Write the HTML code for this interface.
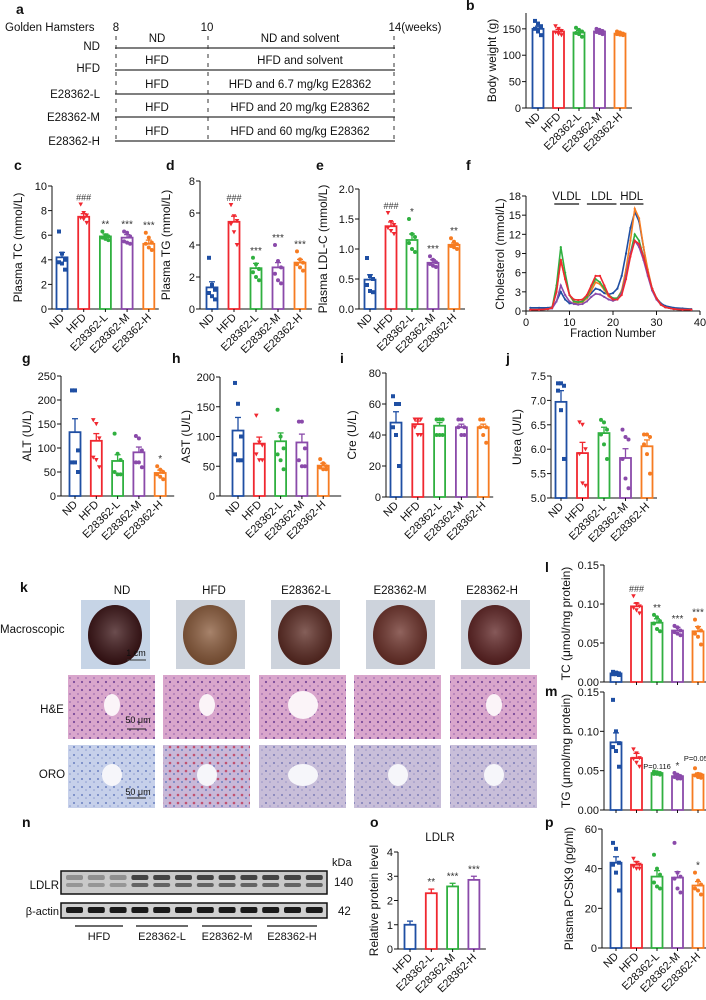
<!DOCTYPE html>
<html><head><meta charset="utf-8"><style>
body{margin:0;background:#fff;}
#wrap{position:relative;width:706px;height:1000px;overflow:hidden;font-family:"Liberation Sans",sans-serif;}
svg{position:absolute;left:0;top:0;}
</style></head><body>
<div id="wrap">
<svg id="s" width="706" height="1000" viewBox="0 0 706 1000">
<defs>
<radialGradient id="liv" cx="50%" cy="45%" r="55%"><stop offset="0" stop-color="#fff" stop-opacity=".25"/><stop offset="1" stop-color="#000" stop-opacity=".2"/></radialGradient>
<pattern id="he" width="8" height="8" patternUnits="userSpaceOnUse"><rect width="8" height="8" fill="#d9a6cc"/><circle cx="2" cy="2" r="1.1" fill="#7a4a9a"/><circle cx="6" cy="6" r="0.9" fill="#a070b0"/></pattern>
<pattern id="oro" width="8" height="8" patternUnits="userSpaceOnUse"><rect width="8" height="8" fill="#c6d0ea"/><circle cx="2" cy="3" r="1" fill="#6a80c0"/><circle cx="6" cy="6" r="0.8" fill="#8a9ad0"/></pattern>
<pattern id="oror" width="8" height="8" patternUnits="userSpaceOnUse"><rect width="8" height="8" fill="#c8b8d8"/><circle cx="2" cy="3" r="1.3" fill="#c05070"/><circle cx="6" cy="6" r="1" fill="#7080c0"/></pattern>
</defs>
</svg>
</div>
<script>
const S=document.getElementById('s');const NS='http://www.w3.org/2000/svg';
function mk(t,a,txt){const e=document.createElementNS(NS,t);for(const k in a)e.setAttribute(k,a[k]);if(txt!==undefined)e.textContent=txt;S.appendChild(e);return e;}
const COL=['#1f4fa3','#f02830','#30b040','#8a4aaa','#f67c22'];
const GROUPS=['ND','HFD','E28362-L','E28362-M','E28362-H'];
function T(x,y,s,fs,anchor,name,extra){const e=mk('text',Object.assign({x:x,y:y,'font-size':fs||11,'text-anchor':anchor||'start',fill:'#111'},extra||{}),s);return e;}

// ---------- data ----------
const bMean=[150,145,143,145,141],bSem=[5,4,4,3,2];
const bDots=[[165,160,155,150,145,138],[155,150,146,143,140,138],[152,148,145,142,140,135],[150,148,146,144,142,140],[145,143,141,140,139,138]];
const cMean=[4.2,7.5,5.9,5.8,5.3],cSem=[0.4,0.25,0.2,0.25,0.3];
const cDots=[[6.3,4.5,4,3.8,3.7,3.2],[8.5,7.8,7.6,7.4,7.3,7.0],[6.3,6.0,5.9,5.8,5.7,5.6],[6.3,6.2,5.9,5.5,5.4,5.3],[6.2,5.8,5.4,5.3,5.0,4.8]];
const dMean=[1.35,5.45,2.55,2.6,2.9],dSem=[0.35,0.35,0.3,0.3,0.2];
const dDots=[[3.2,1.5,1.2,1.0,0.8,0.6],[6.5,5.8,5.5,5.3,4.8,4.0],[3.2,2.8,2.5,2.3,2.0,1.8],[4.0,3.0,2.6,2.2,1.8,1.6],[3.6,3.1,2.9,2.8,2.6,2.4]];
const eMean=[0.49,1.38,1.15,0.77,1.07],eSem=[0.08,0.07,0.1,0.05,0.03];
const eDots=[[0.85,0.55,0.5,0.4,0.3,0.28],[1.6,1.45,1.4,1.35,1.3,1.25],[1.5,1.25,1.2,1.1,1.0,0.95],[0.88,0.82,0.78,0.75,0.72,0.7],[1.18,1.12,1.08,1.05,1.03,1.0]];
const gMean=[133,115,73,91,48],gSem=[28,15,13,11,6];
const gDots=[[220,220,95,70,70,50],[158,150,120,80,75,60],[130,88,75,50,45,45],[125,120,95,70,70,60],[62,55,50,45,40,35]];
const hMean=[110,88,92,90,51],hSem=[22,11,14,14,4];
const hDots=[[190,155,100,70,60,60],[135,90,85,70,60,60],[145,100,80,70,60,45],[125,125,80,60,50,50],[62,55,50,48,45,45]];
const iMean=[48,47,46,45,45],iSem=[7,2,2,2,2];
const iDots=[[65,60,60,45,40,20],[50,50,50,45,40,40],[50,50,50,40,40,40],[50,50,45,45,40,40],[50,50,45,45,40,35]];
const jMean=[6.97,5.92,6.33,5.82,6.06],jSem=[0.23,0.22,0.12,0.19,0.13];
const jDots=[[7.35,7.35,7.3,7.2,6.8,5.8],[6.55,6.5,6.0,5.9,5.3,5.25],[6.6,6.55,6.4,6.3,6.1,5.8],[6.4,6.25,6.2,5.8,5.4,5.2],[6.3,6.3,6.25,6.1,5.9,5.5]];
const lMean=[0.011,0.097,0.076,0.066,0.065],lSem=[0.002,0.004,0.005,0.004,0.006];
const lDots=[[0.013,0.012,0.011,0.010,0.010,0.009],[0.11,0.10,0.097,0.095,0.092,0.088],[0.086,0.083,0.078,0.075,0.068,0.065],[0.072,0.07,0.066,0.064,0.062,0.06],[0.08,0.07,0.066,0.062,0.058,0.048]];
const mMean=[0.086,0.066,0.047,0.043,0.045],mSem=[0.012,0.006,0.001,0.002,0.002];
const mDots=[[0.14,0.10,0.085,0.08,0.075,0.055],[0.077,0.072,0.066,0.065,0.06,0.055],[0.049,0.048,0.047,0.046,0.046,0.045],[0.047,0.045,0.043,0.042,0.04,0.04],[0.053,0.046,0.045,0.044,0.042,0.041]];
const oMean=[1.0,2.3,2.58,2.85],oSem=[0.15,0.17,0.13,0.15];
const pMean=[43,42,36,35.5,31.5],pSem=[3,1.5,3,3,2];
const pDots=[[53,50,43,42,38,29],[45,43,42,41,40,40],[47,40,37,33,31,30],[53,38,36,35,30,28],[38,34,32,30,29,27]];
// f: cholesterol profile
const fFrac=[1,3,5,6,7,8,9,10,11,12,13,14,15,16,17,18,19,20,21,22,23,24,25,26,27,28,29,30,31,32,34,36,38];
const fND=[0.5,0.5,0.5,0.6,1.5,3.0,1.8,1.2,1.2,1.3,1.5,2.0,2.8,3.5,3.3,2.8,2.6,2.8,3.5,5.5,9,13,15.5,14,10,6,3.5,2,1.2,0.8,0.5,0.4,0.3];
const fHFD=[0.2,0.2,0.3,0.5,3,8,5,2.5,1.8,1.7,1.8,2.5,4,5.5,5.5,4,2.5,1.8,1.8,2.5,5,8.5,11,10.5,8.5,6,3.5,2,1,0.6,0.3,0.2,0.2];
const fL=[0.2,0.2,0.3,0.5,4,10,6,2.5,1.5,1.4,1.5,2.2,3.8,5,4.5,3.5,2.5,2,2,3,5.5,9,12,11,8.5,6,3.5,2,1,0.6,0.3,0.2,0.2];
const fM=[0.2,0.2,0.3,0.4,1.5,4,2.5,1.5,1.1,1.0,1.1,1.5,2.2,2.7,2.6,2.2,1.8,1.6,1.8,2.8,5.5,9,11,10,8,5.5,3.2,1.8,1,0.6,0.3,0.2,0.2];
const fH=[0.2,0.2,0.3,0.5,3,8,5,2.5,1.4,1.3,1.4,2,3.2,4.5,4.2,3.3,2.3,1.8,2,3.2,6.5,11,16,14.5,10,6.5,3.5,2,1,0.6,0.3,0.2,0.2];
const fTicksX=[0,10,20,30,40],fTicksY=[0,3,6,9,12,15,18];

function marker(shape,x,y,c){let e;
 if(shape==='sq')e=mk('rect',{x:x-2,y:y-2,width:4,height:4,fill:c});
 else if(shape==='tri')e=mk('path',{d:`M${x-2.3},${y-2} L${x+2.3},${y-2} L${x},${y+2.2}Z`,fill:c});
 else e=mk('circle',{cx:x,cy:y,r:2,fill:c});
 }
const SHAPES=['sq','tri','ci','ci','ci'];

function barChart(o){
 const sy=v=>o.y0-(v-o.ymin)/(o.ymax-o.ymin)*(o.y0-o.yt);
 const n=o.mean.length;const end=o.ax+o.off+(n-1)*o.step+o.off;
 let e=mk('line',{x1:o.ax,y1:o.yt,x2:o.ax,y2:o.y0,stroke:'#111','stroke-width':1});
 e=mk('line',{x1:o.ax,y1:o.y0,x2:end,y2:o.y0,stroke:'#111','stroke-width':1});
 o.ticks.forEach((t,k)=>{const y=sy(t);mk('line',{x1:o.ax-4,y1:y,x2:o.ax,y2:y,stroke:'#111'});T(o.ax-5,y+4,o.tickLabels[k],11,'end',o.id+'-tick-label');});
 const tx=o.ylx||o.ax-30, ty=(o.yt+o.y0)/2;
 T(tx,ty,o.ylabel,12,'middle',o.id+'-y-axis-title',{transform:`rotate(-90 ${tx} ${ty})`});
 for(let i=0;i<n;i++){const cx=o.ax+o.off+i*o.step;const c=(o.colors||COL)[i];
  const top=sy(o.mean[i]);
  e=mk('rect',{x:cx-5.5,y:top,width:11,height:o.y0-top,fill:'#fff',stroke:c,'stroke-width':1.8});
  const ys=sy(o.mean[i]+o.sem[i]);
  mk('line',{x1:cx,y1:top,x2:cx,y2:ys,stroke:c,'stroke-width':1.3});mk('line',{x1:cx-3,y1:ys,x2:cx+3,y2:ys,stroke:c,'stroke-width':1.3});
  mk('line',{x1:cx,y1:o.y0,x2:cx,y2:o.y0+3,stroke:'#111'});
  let mx=o.mean[i]+o.sem[i];
  if(o.dots){o.dots[i].forEach((v,k)=>{marker((o.shapes||SHAPES)[i],cx+((k%3)-1)*3,sy(v),c);mx=Math.max(mx,v);});}
  if(o.stars&&o.stars[i]){T(cx,sy(mx)-4,o.stars[i],o.stars[i].includes('#')?9:10,'middle',o.id+'-significance',{fill:'#333'});}
  if(o.xlabels){const lx=cx+3,ly=o.y0+9;T(lx,ly,o.xlabels[i],11,'end',o.id+'-x-label',{transform:`rotate(-45 ${lx} ${ly})`});}
 }
 return sy;
}
function L(x,y,s){T(x,y,s,14,'start','panel-label-'+s,{'font-weight':'bold'});}

// ---------- a: timeline ----------
L(16,14,'a');
T(5,31,'Golden Hamsters',11.5,'start','timeline-title');
T(116,31,'8',11.5,'middle','week-8');T(207,31,'10',11.5,'middle','week-10');T(415,31,'14(weeks)',11.5,'middle','week-14');
const rowsA=[['ND','ND','ND and solvent'],['HFD','HFD','HFD and solvent'],['E28362-L','HFD','HFD and 6.7 mg/kg E28362'],['E28362-M','HFD','HFD and 20 mg/kg E28362'],['E28362-H','HFD','HFD and 60 mg/kg E28362']];
const rowY=[48,70,94,117,141];
rowsA.forEach((r,i)=>{const y=rowY[i];
 let e=mk('line',{x1:115,y1:y,x2:395,y2:y,stroke:'#333','stroke-width':1.3});
 T(100,y+(i<2?2:4),r[0],11.5,'end','timeline-group-label');
 T(157,y-6,r[1],11.5,'middle','timeline-diet');T(300,y-6,r[2],11.5,'middle','timeline-treatment');});
[116,208,394].forEach(x=>{const e=mk('line',{x1:x,y1:36,x2:x,y2:142,stroke:'#333','stroke-dasharray':'4 5'});});

// ---------- b ----------
L(466,10,'b');
barChart({id:'b',ax:526,off:12,step:20.5,y0:108,yt:13,ymin:0,ymax:180,ticks:[0,50,100,150],tickLabels:['0','50','100','150'],mean:bMean,sem:bSem,dots:bDots,ylabel:'Body weight (g)',xlabels:GROUPS});

// ---------- c d e ----------
L(14,170,'c');
barChart({id:'c',ax:52,off:10,step:21.7,y0:309,yt:186,ymin:0,ymax:10,ticks:[0,2,4,6,8,10],tickLabels:['0','2','4','6','8','10'],mean:cMean,sem:cSem,dots:cDots,stars:['','###','**','***','***'],ylabel:'Plasma TC (mmol/L)',xlabels:GROUPS});
L(166,170,'d');
barChart({id:'d',ax:200,off:12,step:22,y0:309,yt:181,ymin:0,ymax:8,ticks:[0,2,4,6,8],tickLabels:['0','2','4','6','8'],mean:dMean,sem:dSem,dots:dDots,stars:['','###','***','***','***'],ylabel:'Plasma TG (mmol/L)',xlabels:GROUPS});
L(316,170,'e');
barChart({id:'e',ax:359,off:11,step:21,y0:309,yt:189,ymin:0,ymax:2,ticks:[0,0.5,1,1.5,2],tickLabels:['0.0','0.5','1.0','1.5','2.0'],mean:eMean,sem:eSem,dots:eDots,stars:['','###','*','***','**'],ylabel:'Plasma LDL-C (mmol/L)',ylx:327,xlabels:GROUPS});

// ---------- f ----------
L(466,170,'f');
(function(){const ax=526,x1=700,y0=311,yt=196;
 const sx=v=>ax+v/40*(x1-ax), sy=v=>y0-v/18*(y0-yt);
 let e=mk('line',{x1:ax,y1:yt,x2:ax,y2:y0,stroke:'#111'});
 e=mk('line',{x1:ax,y1:y0,x2:x1,y2:y0,stroke:'#111'});
 fTicksY.forEach(t=>{mk('line',{x1:ax-4,y1:sy(t),x2:ax,y2:sy(t),stroke:'#111'});T(ax-5,sy(t)+4,String(t),11,'end','f-tick-label');});
 fTicksX.forEach(t=>{mk('line',{x1:sx(t),y1:y0,x2:sx(t),y2:y0+4,stroke:'#111'});T(sx(t),y0+15,String(t),11,'middle','f-tick-label');});
 T(613,337,'Fraction Number',11.5,'middle','f-x-axis-title');
 T(504,254,'Cholesterol (mmol/L)',12,'middle','f-y-axis-title',{transform:'rotate(-90 504 254)'});
 [['VLDL',6.5,12.2],['LDL',14,20.8],['HDL',21.6,27]].forEach(a=>{const e=mk('line',{x1:sx(a[1]),y1:204,x2:sx(a[2]),y2:204,stroke:'#111','stroke-width':1.3});T((sx(a[1])+sx(a[2]))/2,200,a[0],11.5,'middle','lipoprotein-label');});
 [[fND,0],[fH,4],[fL,2],[fM,3],[fHFD,1]].forEach(p=>{const d=p[0].map((v,k)=>(k?'L':'M')+sx(fFrac[k]).toFixed(1)+','+sy(v).toFixed(1)).join(' ');
  const e=mk('path',{d:d,fill:'none',stroke:COL[p[1]],'stroke-width':1.6});
  p[0].forEach((v,k)=>{const m=mk('circle',{cx:sx(fFrac[k]),cy:sy(v),r:1.1,fill:COL[p[1]]});});});
})();

// ---------- g h i j ----------
L(22,363,'g');
barChart({id:'g',ax:61,off:14,step:21.3,y0:496,yt:376,ymin:0,ymax:250,ticks:[0,50,100,150,200,250],tickLabels:['0','50','100','150','200','250'],mean:gMean,sem:gSem,dots:gDots,stars:['','','','','*'],ylabel:'ALT (U/L)',xlabels:GROUPS});
L(172,363,'h');
barChart({id:'h',ax:220,off:18,step:21.3,y0:496,yt:377,ymin:0,ymax:200,ticks:[0,50,100,150,200],tickLabels:['0','50','100','150','200'],mean:hMean,sem:hSem,dots:hDots,ylabel:'AST (U/L)',xlabels:GROUPS});
L(340,363,'i');
barChart({id:'i',ax:386,off:10,step:21.8,y0:497,yt:373,ymin:0,ymax:80,ticks:[0,20,40,60,80],tickLabels:['0','20','40','60','80'],mean:iMean,sem:iSem,dots:iDots,ylabel:'Cre (U/L)',xlabels:GROUPS});
L(506,363,'j');
barChart({id:'j',ax:551,off:10,step:21.5,y0:498,yt:376,ymin:5,ymax:7.5,ticks:[5,5.5,6,6.5,7,7.5],tickLabels:['5.0','5.5','6.0','6.5','7.0','7.5'],mean:jMean,sem:jSem,dots:jDots,ylabel:'Urea (U/L)',xlabels:GROUPS});

// ---------- k: images ----------
L(20,592,'k');
const kx=[122,214,306,400,492];
GROUPS.forEach((g,i)=>T(kx[i],594,g,11.5,'middle','image-column-header'));
T(0,633,'Macroscopic',11.5,'start','row-label-macroscopic');
T(52,713,'H&E',11.5,'middle','row-label-he');T(52,778,'ORO',11.5,'middle','row-label-oro');
const livCol=['#3a1214','#8a5a3a','#5c2a22','#6c3028','#5e2222'];
const macX=[81,176,271,366,461];
macX.forEach((x,i)=>{let e=mk('rect',{x:x,y:600,width:69,height:69,fill:i==0?'#c6d4e6':'#cdd3dc'});
 e=mk('ellipse',{cx:x+34,cy:635,rx:27,ry:30,fill:livCol[i]});
 mk('ellipse',{cx:x+34,cy:635,rx:27,ry:30,fill:'url(#liv)'});});
mk('line',{x1:127,y1:660,x2:146,y2:660,stroke:'#333'});T(136,656,'1 cm',9,'middle','scale-bar-label');
const hx=[68,163,259,354,450];
hx.forEach((x,i)=>{let e=mk('rect',{x:x,y:675,width:87,height:64,fill:'url(#he)'});
 if(i!=3)mk('ellipse',{cx:x+44,cy:705,rx:i==2?15:8,ry:i==2?14:11,fill:'#fbf4f8'});
 e=mk('rect',{x:x,y:745,width:87,height:63,fill:(i==1)?'url(#oror)':'url(#oro)'});
 if(i>1)mk('rect',{x:x,y:745,width:87,height:63,fill:'#d07090',opacity:0.18});
 mk('ellipse',{cx:x+44,cy:775,rx:i==2?15:10,ry:11,fill:'#f6f6fa'});});
mk('line',{x1:127,y1:729,x2:146,y2:729,stroke:'#222'});T(138,723,'50 μm',9,'middle','scale-bar-label');
mk('line',{x1:127,y1:798,x2:146,y2:798,stroke:'#222'});T(138,795,'50 μm',9,'middle','scale-bar-label');

// ---------- l m ----------
L(545,572,'l');
barChart({id:'l',ax:604,off:12,step:20.5,y0:682,yt:565,ymin:0,ymax:0.15,ticks:[0,0.05,0.1,0.15],tickLabels:['0.00','0.05','0.10','0.15'],mean:lMean,sem:lSem,dots:lDots,stars:['','###','**','***','***'],ylabel:'TC  (μmol/mg protein)',ylx:570});
L(545,696,'m');
barChart({id:'m',ax:604,off:12,step:20.5,y0:810,yt:692,ymin:0,ymax:0.15,ticks:[0,0.05,0.1,0.15],tickLabels:['0.00','0.05','0.10','0.15'],mean:mMean,sem:mSem,dots:mDots,stars:['','','','*',''],ylabel:'TG (μmol/mg protein)',ylx:570});
T(657,769,'P=0.116',7.5,'middle','p-value');T(698,761,'P=0.053',7.5,'middle','p-value');

// ---------- n: blot ----------
L(22,827,'n');
(function(){let e=mk('rect',{x:61,y:871,width:266,height:23,fill:'#c9c9c9',stroke:'#111','stroke-width':1.5});
 e=mk('rect',{x:61,y:903,width:266,height:15,fill:'#d0d0d0',stroke:'#111','stroke-width':1.5});
 for(let k=0;k<12;k++){const x=66+k*21.8;const dark=k<3?0.35:0.8;
  mk('rect',{x:x,y:875,width:17,height:5,rx:2,fill:'#222',opacity:dark});
  mk('rect',{x:x,y:883,width:17,height:4,rx:2,fill:'#222',opacity:k<3?0.3:0.6});
  mk('rect',{x:x,y:907,width:17,height:6,rx:2,fill:'#1a1a1a'});}
 T(332,866,'kDa',11,'start','kda-label');T(334,886,'140',11.5,'start','mw-140');T(338,915,'42',11.5,'start','mw-42');
 T(59,889,'LDLR',11.5,'end','ldlr-label');T(59,915,'β-actin',11,'end','actin-label');
 [[75,123,'HFD'],[136,188,'E28362-L'],[202,252,'E28362-M'],[267,317,'E28362-H']].forEach(g=>{mk('line',{x1:g[0],y1:926,x2:g[1],y2:926,stroke:'#111','stroke-width':1.3});T((g[0]+g[1])/2,940,g[2],11,'middle','blot-group-label');});
})();

// ---------- o ----------
L(370,827,'o');
T(440,841,'LDLR',11.5,'middle','o-title');
barChart({id:'o',ax:398,off:12,step:21.3,y0:949,yt:852,ymin:0,ymax:4,ticks:[0,1,2,3,4],tickLabels:['0','1','2','3','4'],mean:oMean,sem:oSem,stars:['','**','***','***'],ylabel:'Relative protein level',ylx:378,colors:COL.slice(0,4),xlabels:['HFD','E28362-L','E28362-M','E28362-H']});

// ---------- p ----------
L(545,827,'p');
barChart({id:'p',ax:602,off:14,step:20.5,y0:948,yt:829,ymin:0,ymax:60,ticks:[0,20,40,60],tickLabels:['0','20','40','60'],mean:pMean,sem:pSem,dots:pDots,stars:['','','','','*'],ylabel:'Plasma PCSK9 (pg/ml)',ylx:573,xlabels:GROUPS});
</script>
</body></html>
